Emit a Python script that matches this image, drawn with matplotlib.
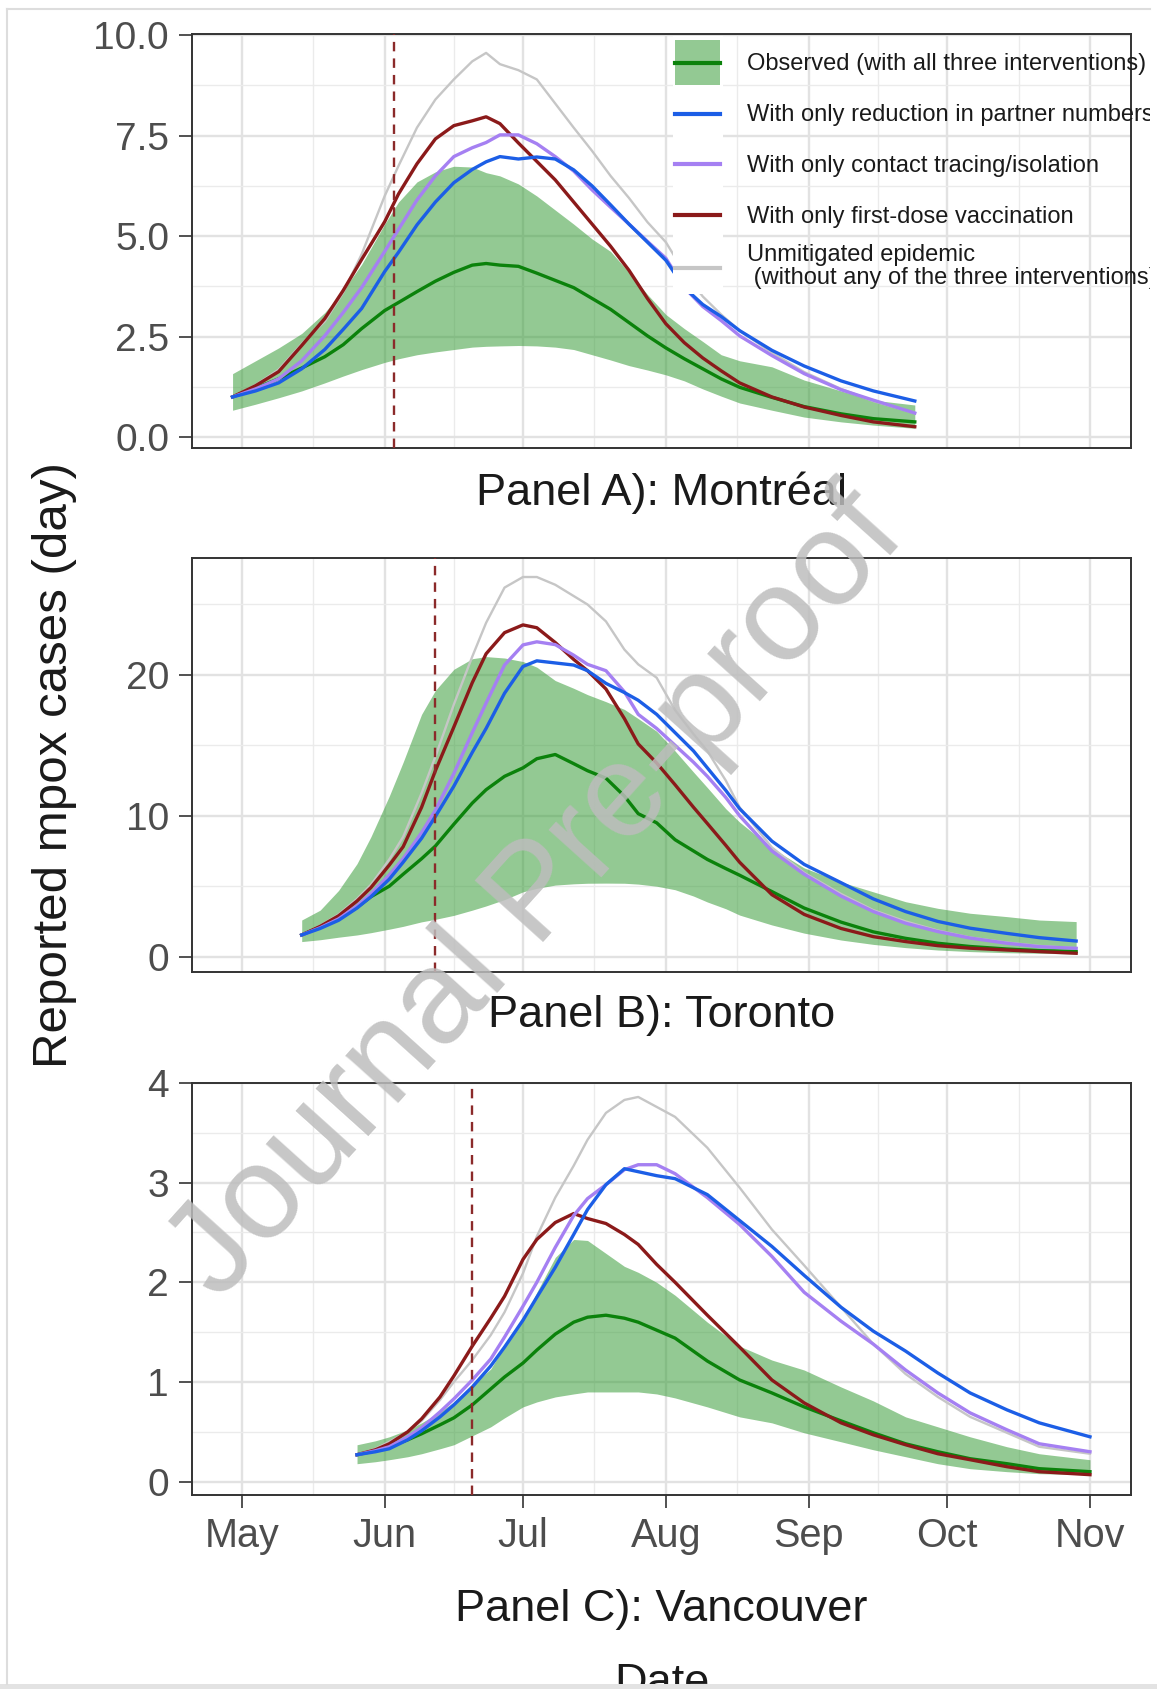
import pandas as pd
import numpy as np
import matplotlib.pyplot as plt
from matplotlib.patches import Patch, Rectangle
from matplotlib.lines import Line2D
from matplotlib.legend_handler import HandlerLine2D

plt.rcParams['font.family'] = ['Liberation Sans', 'DejaVu Sans']

# ---- data: days since 2022-05-01, reported mpox cases per day ----
start = pd.Timestamp('2022-05-01')

# Panel A: Montreal
mtl_days = [-2, 3, 8, 13, 18, 22, 26, 31, 34, 38, 42, 46, 50, 53, 56, 60, 64, 68, 72,
            76, 80, 84, 88, 92, 96, 100, 104, 108, 115, 122, 130, 137, 146]
mtl_obs = [1.0, 1.22, 1.45, 1.72, 2.0, 2.3, 2.7, 3.15, 3.35, 3.62, 3.88, 4.1, 4.28, 4.32, 4.28,
           4.25, 4.08, 3.9, 3.72, 3.45, 3.18, 2.85, 2.52, 2.22, 1.95, 1.7, 1.45, 1.24, 0.99,
           0.76, 0.58, 0.46, 0.38]
mtl_lo = [0.67, 0.82, 0.98, 1.15, 1.35, 1.52, 1.68, 1.86, 1.95, 2.05, 2.12, 2.18, 2.24, 2.26,
          2.27, 2.28, 2.27, 2.24, 2.18, 2.05, 1.92, 1.78, 1.67, 1.55, 1.4, 1.2, 1.02, 0.85,
          0.67, 0.5, 0.38, 0.3, 0.22]
mtl_hi = [1.58, 1.9, 2.22, 2.58, 3.1, 3.65, 4.3, 5.3, 5.85, 6.35, 6.6, 6.74, 6.72, 6.58, 6.5,
          6.3, 6.0, 5.65, 5.3, 4.93, 4.62, 4.1, 3.55, 3.05, 2.7, 2.38, 2.05, 1.9, 1.75, 1.42,
          1.15, 0.92, 0.8]
mtl_partner = [1.0, 1.15, 1.35, 1.7, 2.18, 2.68, 3.2, 4.12, 4.6, 5.28, 5.85, 6.33, 6.66, 6.85,
               6.98, 6.92, 6.97, 6.92, 6.65, 6.25, 5.78, 5.3, 4.85, 4.4, 3.72, 3.3, 3.0, 2.65,
               2.16, 1.77, 1.4, 1.15, 0.9]
mtl_tracing = [1.0, 1.2, 1.45, 1.9, 2.52, 3.1, 3.72, 4.62, 5.17, 5.9, 6.5, 6.98, 7.2, 7.33,
               7.52, 7.52, 7.3, 6.98, 6.62, 6.15, 5.72, 5.3, 4.87, 4.45, 3.72, 3.25, 2.9, 2.52,
               2.03, 1.58, 1.18, 0.92, 0.6]
mtl_vaccine = [1.0, 1.28, 1.63, 2.28, 2.95, 3.65, 4.42, 5.36, 6.05, 6.8, 7.42, 7.75, 7.87, 7.97,
               7.8, 7.32, 6.86, 6.4, 5.85, 5.3, 4.75, 4.15, 3.45, 2.82, 2.35, 1.97, 1.65, 1.35,
               1.0, 0.75, 0.54, 0.38, 0.26]
mtl_unmitigated = [1.0, 1.3, 1.68, 2.32, 2.88, 3.6, 4.55, 6.0, 6.75, 7.7, 8.4, 8.9, 9.35, 9.56,
                   9.28, 9.13, 8.9, 8.3, 7.7, 7.12, 6.5, 5.95, 5.35, 4.85, 4.1, 3.5, 3.05, 2.65,
                   2.1, 1.62, 1.2, 0.9, 0.6]
mtl_start_date = '2022-06-03'

# Panel B: Toronto
tor_days = [13, 17, 21, 25, 28, 32, 35, 39, 42, 46, 50, 53, 57, 61, 64, 68, 72, 75, 79, 83, 86,
            90, 94, 98, 101, 105, 108, 115, 122, 130, 137, 144, 151, 158, 166, 173, 181]
tor_obs = [1.54, 2.1, 2.68, 3.5, 4.25, 5.0, 5.85, 6.95, 7.85, 9.4, 10.9, 11.85, 12.8, 13.4,
           14.05, 14.35, 13.7, 13.2, 12.67, 11.4, 10.15, 9.5, 8.3, 7.5, 6.9, 6.25, 5.78, 4.62,
           3.45, 2.45, 1.76, 1.3, 0.95, 0.72, 0.54, 0.43, 0.36]
tor_lo = [1.07, 1.2, 1.38, 1.54, 1.7, 1.95, 2.15, 2.47, 2.65, 2.93, 3.3, 3.6, 4.05, 4.6, 4.85,
          5.08, 5.17, 5.21, 5.22, 5.21, 5.15, 5.0, 4.75, 4.3, 3.88, 3.4, 2.95, 2.25, 1.67, 1.18,
          0.87, 0.64, 0.47, 0.36, 0.28, 0.24, 0.19]
tor_hi = [2.6, 3.3, 4.7, 6.6, 8.5, 11.4, 13.8, 17.2, 18.9, 20.4, 21.15, 21.3, 21.2, 20.95, 20.55,
          19.6, 19.05, 18.6, 18.1, 17.55, 16.9, 16.0, 14.6, 13.1, 12.0, 10.5, 9.55, 7.7, 6.3,
          5.3, 4.6, 3.9, 3.43, 3.08, 2.84, 2.6, 2.49]
tor_partner = [1.54, 2.0, 2.58, 3.45, 4.25, 5.5, 6.7, 8.4, 9.95, 12.1, 14.5, 16.2, 18.7, 20.6,
               21.0, 20.85, 20.7, 20.3, 19.4, 18.75, 18.2, 17.2, 15.9, 14.6, 13.4, 11.8, 10.5,
               8.2, 6.55, 5.25, 4.1, 3.2, 2.5, 2.02, 1.65, 1.35, 1.11]
tor_tracing = [1.54, 2.05, 2.68, 3.6, 4.45, 5.8, 6.95, 8.8, 10.4, 13.0, 15.9, 18.0, 20.7, 22.13,
               22.35, 22.15, 21.4, 20.75, 20.3, 18.8, 17.2, 16.2, 15.0, 13.8, 12.8, 11.3, 10.0,
               7.5, 5.85, 4.3, 3.2, 2.37, 1.78, 1.32, 0.95, 0.71, 0.59]
tor_vaccine = [1.54, 2.15, 2.9, 3.95, 4.9, 6.5, 7.8, 10.6, 13.2, 16.3, 19.45, 21.5, 23.0, 23.55,
               23.35, 22.3, 21.1, 20.3, 19.0, 16.9, 15.1, 13.75, 12.2, 10.6, 9.45, 7.9, 6.7, 4.4,
               3.0, 2.0, 1.42, 1.07, 0.78, 0.6, 0.47, 0.36, 0.24]
tor_unmitigated = [1.54, 2.2, 3.0, 4.1, 5.1, 6.9, 8.5, 11.6, 14.2, 17.9, 21.3, 23.7, 26.2, 26.95,
                   26.95, 26.4, 25.6, 25.0, 23.8, 21.8, 20.75, 19.8, 17.5, 15.8, 14.6, 12.5, 10.6,
                   7.75, 5.95, 4.45, 3.3, 2.5, 1.85, 1.36, 1.0, 0.76, 0.6]
tor_start_date = '2022-06-12'

# Panel C: Vancouver
van_days = [25, 29, 32, 36, 39, 43, 46, 50, 54, 57, 61, 64, 68, 72, 75, 79, 83, 86, 90, 94, 101,
            108, 115, 122, 130, 137, 144, 151, 158, 166, 173, 184]
van_obs = [0.27, 0.31, 0.35, 0.42, 0.48, 0.57, 0.64, 0.77, 0.93, 1.05, 1.19, 1.32, 1.48, 1.6,
           1.65, 1.67, 1.64, 1.6, 1.52, 1.44, 1.21, 1.02, 0.89, 0.75, 0.61, 0.49, 0.38, 0.3,
           0.23, 0.18, 0.13, 0.1]
van_lo = [0.18, 0.2, 0.22, 0.25, 0.28, 0.33, 0.37, 0.46, 0.55, 0.64, 0.75, 0.8, 0.85, 0.88, 0.9,
          0.9, 0.9, 0.9, 0.88, 0.84, 0.75, 0.65, 0.59, 0.49, 0.4, 0.32, 0.25, 0.18, 0.13, 0.1,
          0.08, 0.07]
van_hi = [0.37, 0.41, 0.45, 0.52, 0.59, 0.7, 0.8, 0.97, 1.13, 1.36, 1.62, 1.9, 2.25, 2.43, 2.42,
          2.29, 2.16, 2.1, 2.0, 1.87, 1.6, 1.36, 1.22, 1.12, 0.95, 0.81, 0.65, 0.55, 0.45, 0.35,
          0.28, 0.22]
van_partner = [0.27, 0.3, 0.33, 0.42, 0.51, 0.65, 0.77, 0.95, 1.16, 1.35, 1.62, 1.85, 2.15, 2.48,
               2.73, 2.98, 3.14, 3.11, 3.07, 3.04, 2.88, 2.62, 2.36, 2.07, 1.75, 1.51, 1.31,
               1.09, 0.89, 0.72, 0.59, 0.45]
van_tracing = [0.27, 0.31, 0.35, 0.45, 0.54, 0.7, 0.83, 1.02, 1.23, 1.45, 1.76, 2.0, 2.35, 2.67,
               2.84, 2.98, 3.13, 3.18, 3.18, 3.09, 2.85, 2.58, 2.26, 1.9, 1.61, 1.38, 1.12, 0.89,
               0.69, 0.52, 0.38, 0.3]
van_vaccine = [0.27, 0.32, 0.38, 0.5, 0.63, 0.85, 1.06, 1.36, 1.64, 1.86, 2.23, 2.43, 2.6, 2.69,
               2.64, 2.59, 2.48, 2.38, 2.18, 2.0, 1.67, 1.35, 1.02, 0.79, 0.59, 0.47, 0.37, 0.28,
               0.22, 0.15, 0.1, 0.07]
van_unmitigated = [0.27, 0.33, 0.4, 0.5, 0.61, 0.82, 1.0, 1.22, 1.47, 1.7, 2.09, 2.46, 2.85, 3.17,
                   3.43, 3.7, 3.83, 3.86, 3.76, 3.66, 3.35, 2.95, 2.53, 2.17, 1.75, 1.38, 1.08,
                   0.85, 0.65, 0.49, 0.35, 0.28]
van_start_date = '2022-06-20'

panel_titles = ['Panel A): Montréal', 'Panel B): Toronto', 'Panel C): Vancouver']
legend_labels = ['Observed (with all three interventions)',
                 'With only reduction in partner numbers',
                 'With only contact tracing/isolation',
                 'With only first-dose vaccination',
                 'Unmitigated epidemic\n (without any of the three interventions)']

# ---- styling ----
W, H = 1157, 1689
c_obs = '#0b820b'
c_band = '#3a9e3a'
c_partner = '#1c5ee6'
c_tracing = '#a580f2'
c_vaccine = '#8b1a1a'
c_unmit = '#c6c6c6'
c_vline = '#8b2a2a'


def fx(px):
    return px / W


def fy(py):
    return 1 - py / H


class CenteredLine(HandlerLine2D):
    # put legend key lines in the middle of the (tall) key box
    def create_artists(self, legend, orig_handle, xdescent, ydescent, width, height,
                       fontsize, trans):
        return super().create_artists(legend, orig_handle, xdescent, 2 * ydescent, width,
                                      height, fontsize, trans)


fig = plt.figure(figsize=(W / 100, H / 100), dpi=100)

months = pd.date_range('2022-05-01', '2022-11-01', freq='MS')
mid_months = months[:-1] + (months[1:] - months[:-1]) / 2
xlim = (start - pd.Timedelta(days=10.8), start + pd.Timedelta(days=192.9))

panels = [
    (mtl_days, mtl_obs, mtl_lo, mtl_hi, mtl_partner, mtl_tracing, mtl_vaccine, mtl_unmitigated,
     mtl_start_date, (-0.27, 10.03), [0, 2.5, 5, 7.5, 10], ['0.0', '2.5', '5.0', '7.5', '10.0'],
     [1.25, 3.75, 6.25, 8.75], 34, 448, 493),
    (tor_days, tor_obs, tor_lo, tor_hi, tor_partner, tor_tracing, tor_vaccine, tor_unmitigated,
     tor_start_date, (-1.09, 28.3), [0, 10, 20], ['0', '10', '20'], [5, 15, 25], 558, 972, 1015),
    (van_days, van_obs, van_lo, van_hi, van_partner, van_tracing, van_vaccine, van_unmitigated,
     van_start_date, (-0.134, 4.0), [0, 1, 2, 3, 4], ['0', '1', '2', '3', '4'],
     [0.5, 1.5, 2.5, 3.5], 1083, 1495, 1610),
]

axes = []
for i, (days, obs, lo, hi, partner, tracing, vaccine, unmit, vdate, ylim, yt, ytl, ymin,
        top, bottom, title_y) in enumerate(panels):
    ax = fig.add_axes([fx(192), fy(bottom), fx(1131) - fx(192), (bottom - top) / H])
    x = start + pd.to_timedelta(days, unit='D')

    ax.fill_between(x, lo, hi, color=c_band, alpha=0.55, linewidth=0, zorder=2)
    ax.plot(x, unmit, color=c_unmit, lw=1.7, zorder=3)
    ax.plot(x, obs, color=c_obs, lw=2.4, zorder=4)
    ax.plot(x, vaccine, color=c_vaccine, lw=2.4, zorder=4)
    ax.plot(x, tracing, color=c_tracing, lw=2.4, zorder=4)
    ax.plot(x, partner, color=c_partner, lw=2.4, zorder=4)
    ax.axvline(pd.Timestamp(vdate), color=c_vline, lw=1.7, ls=(0, (4, 3)), zorder=4)

    ax.set_xlim(xlim)
    ax.set_ylim(ylim)
    ax.set_yticks(yt)
    ax.set_yticklabels(ytl)
    ax.set_yticks(ymin, minor=True)
    ax.set_xticks(months)
    ax.set_xticks(mid_months, minor=True)
    ax.grid(which='major', color='#e2e2e2', lw=1.7, zorder=0)
    ax.grid(which='minor', color='#ebebeb', lw=1.0, zorder=0)
    ax.set_axisbelow(True)
    ax.tick_params(axis='y', which='major', length=9.5, width=1.2, color='#333333',
                   labelsize=28, labelcolor='#4d4d4d', pad=7)
    ax.tick_params(which='minor', length=0)
    if i < 2:
        ax.tick_params(axis='x', which='major', length=0, labelbottom=False)
    else:
        ax.set_xticklabels([d.strftime('%b') for d in months])
        ax.tick_params(axis='x', which='major', length=9.5, width=1.2, color='#333333',
                       labelsize=28.5, labelcolor='#4d4d4d', pad=6)
    for s in ax.spines.values():
        s.set_color('#333333')
        s.set_linewidth(1.4)

    fig.text(fx(661.5), fy(title_y), panel_titles[i], fontsize=32.5, ha='center', va='center',
             color='#1a1a1a')
    axes.append(ax)

# legend in panel A (transparent, white key column)
ax_a = axes[0]
ax_a.add_patch(Rectangle((fx(673), fy(294)), fx(723) - fx(673), (294 - 36) / H,
                         transform=fig.transFigure, facecolor='white', edgecolor='none',
                         zorder=4.5))
handles = [(Patch(facecolor=c_band, alpha=0.55, edgecolor='none'), Line2D([], [], color=c_obs, lw=3)),
           Line2D([], [], color=c_partner, lw=3),
           Line2D([], [], color=c_tracing, lw=3),
           Line2D([], [], color=c_vaccine, lw=3),
           Line2D([], [], color=c_unmit, lw=3)]
leg = ax_a.legend(handles, legend_labels, loc='upper left', bbox_to_anchor=(fx(675), fy(40)),
                  bbox_transform=fig.transFigure, frameon=False, fontsize=17,
                  handlelength=1.9, handleheight=2.56, handletextpad=1.15, labelspacing=0.25,
                  borderpad=0, borderaxespad=0, handler_map={Line2D: CenteredLine()})
for t in leg.get_texts():
    t.set_color('#1a1a1a')
    t.set_linespacing(1.05)

# axis titles
fig.text(fx(55), fy(765), 'Reported mpox cases (day)', rotation=90, fontsize=35.5,
         ha='center', va='center', color='#1a1a1a')
fig.text(fx(661.5), fy(1695), 'Date', fontsize=32.5, ha='center', va='baseline', color='#1a1a1a')

# watermark
fig.text(fx(538), fy(896), 'Journal Pre-proof', fontsize=96, rotation=48, ha='center',
         va='center', rotation_mode='anchor', color='#bdbdbd', alpha=0.85, zorder=20)

# page edges: clip at right/bottom, thin border
fig.add_artist(Rectangle((fx(1150), 0), 1 - fx(1150), 1, transform=fig.transFigure,
                         facecolor='white', edgecolor='none', zorder=25))
fig.add_artist(Rectangle((0, 0), 1, fy(1684), transform=fig.transFigure,
                         facecolor='#e3e3e3', edgecolor='none', zorder=26))
fig.add_artist(Line2D([fx(7), fx(1150)], [fy(9), fy(9)], transform=fig.transFigure,
                      color='#dddddd', lw=1.5, zorder=26))
fig.add_artist(Line2D([fx(7), fx(7)], [fy(9), fy(1684)], transform=fig.transFigure,
                      color='#dddddd', lw=1.5, zorder=26))

fig.savefig('out.png', dpi=100)
